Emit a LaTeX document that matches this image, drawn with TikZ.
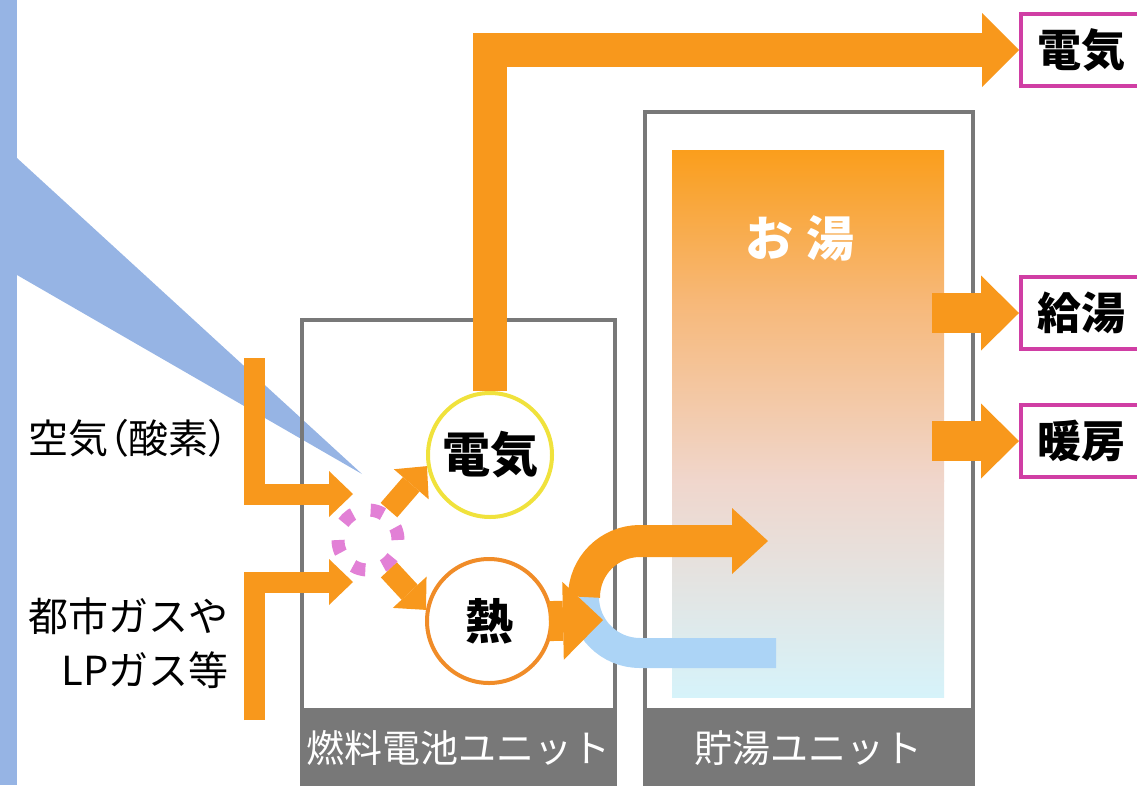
\documentclass[tikz,border=0pt]{standalone}
\usepackage{fontspec}
\newfontfamily\jpfont{Noto Sans CJK JP}
\newfontfamily\jppfont{Noto Sans CJK JP}[RawFeature=+palt]
\usetikzlibrary{arrows.meta}
\definecolor{flowc}{RGB}{248,152,28}
\definecolor{skyc}{RGB}{150,180,228}
\definecolor{pipec}{RGB}{172,212,246}
\definecolor{unitc}{RGB}{120,120,120}
\definecolor{elecc}{RGB}{240,226,60}
\definecolor{heatc}{RGB}{240,140,40}
\definecolor{mixc}{RGB}{226,128,214}
\definecolor{outc}{RGB}{208,62,164}
\definecolor{hotA}{RGB}{250,158,28}
\definecolor{hotB}{RGB}{247,184,120}
\definecolor{hotC}{RGB}{240,214,204}
\definecolor{hotD}{RGB}{214,243,250}

\begin{document}
\begin{tikzpicture}[x=1pt,y=-1pt,
  flow/.style={draw=flowc,line width=#1,line join=miter},
  unit/.style={draw=unitc,line width=4pt},
  band/.style={text=white,font=\jpfont\fontsize{38}{40}\selectfont},
  ball/.style={circle,draw=#1,line width=4pt,fill=white,minimum size=124pt,font=\jpfont\bfseries\fontsize{48}{50}\selectfont},
  outbox/.style={draw=outc,line width=4pt,fill=white,anchor=west,minimum height=72pt,text width=110pt,inner xsep=16pt,font=\jpfont\bfseries\fontsize{44}{46}\selectfont},
  inlabel/.style={anchor=east,align=right,font=\jpfont\fontsize{40}{54}\selectfont}]
\useasboundingbox (0,0) rectangle (1137,785);
\clip (0,0) rectangle (1137,785);
% Drawing the air stream
\fill[skyc] (0,0) rectangle (17,785);
\fill[skyc] (17,158) -- (362,474) -- (17,275) -- cycle;
% Drawing the units
\draw[unit] (302,320) rectangle (615,785);
\fill[unitc] (302,708) rectangle (615,785);
\node[band] (fcunit) at (458,748) {燃料電池ユニット};
\draw[unit] (645,112) rectangle (973,785);
\fill[unitc] (645,708) rectangle (973,785);
\node[band] (tankunit) at (808,748) {貯湯ユニット};
% Drawing the hot water
\shade[top color=hotA,bottom color=hotB] (672,150) rectangle (944,301);
\shade[top color=hotB,bottom color=hotC] (672,300) rectangle (944,481);
\shade[top color=hotC,bottom color=hotD] (672,480) rectangle (944,697);
\node[text=white,font=\jpfont\bfseries\fontsize{48}{50}\selectfont] (hot) at (800,238) {お\hspace{14pt}湯};
% Drawing the pipe
\coordinate (pipeL) at (584,597);
\draw[draw=pipec,line width=30pt] (776,653) -- (640,653) .. controls (609,653) and (584,628) .. (pipeL);
\draw[flow=32pt,-{Triangle[width=66pt,length=36pt,line width=0pt]}] (pipeL) .. controls (584,566) and (609,541) .. (640,541) -- (768,541);
% Drawing the inputs
\coordinate (airtop) at (254,358);
\coordinate (airin) at (353,494);
\coordinate (gastop) at (254,720);
\coordinate (gasin) at (353,582);
\draw[flow=21pt,-{Triangle[width=46pt,length=24pt,line width=0pt]}] (airtop) |- (airin);
\draw[flow=21pt,-{Triangle[width=46pt,length=24pt,line width=0pt]}] (gastop) |- (gasin);
\node[inlabel,font=\jppfont\fontsize{40}{54}\selectfont] (air) at (232,438) {空気（酸素）};
\node[inlabel] (gas) at (232,643) {都市ガスや\\LPガス等};
% Drawing the cell
\node[draw=mixc,line width=13pt,dash pattern=on 13pt off 18.4pt,circle,minimum size=60pt,inner sep=0pt] (mix) at (368,540) {};
\node[ball=elecc] (elec) at (490,455) {電気};
\node[ball=heatc] (heat) at (489,621) {熱};
\draw[flow=22pt,-{Triangle[width=46pt,length=24pt,line width=0pt]}] (mix.55) -- (elec.190);
\draw[flow=22pt,-{Triangle[width=46pt,length=24pt,line width=0pt]}] (mix.-55) -- (heat.170);
% Drawing the outputs
\node[outbox] (outelec) at (1019,50) {電気};
\node[outbox] (outkyu) at (1019,313) {給湯};
\node[outbox] (outdan) at (1019,441) {暖房};
\draw[flow=34pt,-{Triangle[width=74pt,length=37pt,line width=0pt]}] (elec.north) |- (outelec.west);
\coordinate (heatout) at (603,620);
\draw[flow=40pt,shorten <=-4pt,-{Triangle[width=78pt,length=40pt,line width=0pt]}] (heat.east) -- (heatout);
\coordinate (kyusrc) at (932,313);
\coordinate (dansrc) at (932,441);
\draw[flow=40pt,-{Triangle[width=75pt,length=38pt,line width=0pt]}] (kyusrc) -- (outkyu.west);
\draw[flow=40pt,-{Triangle[width=75pt,length=38pt,line width=0pt]}] (dansrc) -- (outdan.west);
% Done with the picture
\end{tikzpicture}
\end{document}
